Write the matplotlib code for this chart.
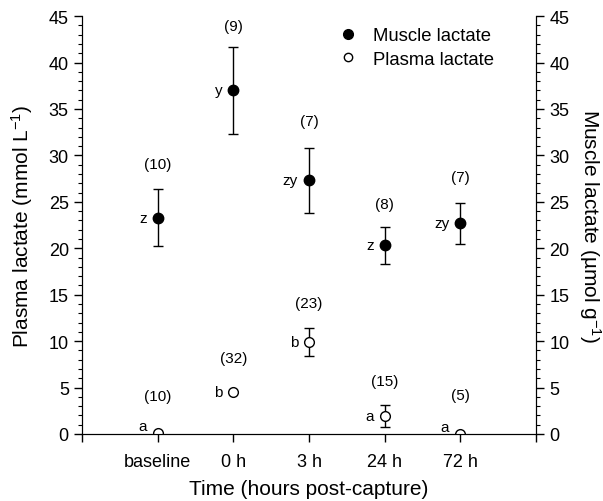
import numpy as np
import matplotlib
matplotlib.use('Agg')
import matplotlib.pyplot as plt
from matplotlib.ticker import MultipleLocator
from matplotlib.lines import Line2D

plt.rcParams['font.family'] = ['Liberation Sans', 'DejaVu Sans']
plt.rcParams['mathtext.fontset'] = 'custom'
plt.rcParams['mathtext.rm'] = 'Liberation Sans'
plt.rcParams['mathtext.it'] = 'Liberation Sans:italic'
plt.rcParams['mathtext.bf'] = 'Liberation Sans:bold'

times = ['baseline', '0 h', '3 h', '24 h', '72 h']

muscle_mean = [23.3, 37.0, 27.3, 20.3, 22.7]
muscle_err = [3.1, 4.7, 3.5, 2.0, 2.2]
muscle_n = ['(10)', '(9)', '(7)', '(8)', '(7)']
muscle_n_y = [29.1, 43.9, 33.7, 24.8, 27.7]
muscle_letters = ['z', 'y', 'zy', 'z', 'zy']

plasma_mean = [0.1, 4.5, 9.9, 1.9, 0.0]
plasma_err = [0.0, 0.0, 1.5, 1.2, 0.0]
plasma_n = ['(10)', '(32)', '(23)', '(15)', '(5)']
plasma_n_y = [4.1, 8.2, 14.1, 5.7, 4.2]
plasma_letters = ['a', 'b', 'b', 'a', 'a']

x = np.arange(1, len(times) + 1)

fig = plt.figure(figsize=(6.03, 5.02), dpi=100)
ax = fig.add_axes([0.136, 0.1335, 0.753, 0.8325])

ax.errorbar(x, muscle_mean, yerr=muscle_err, fmt='o', color='black', mfc='black',
            ms=7.5, capsize=3.5, elinewidth=1, capthick=1, zorder=3)
ax.errorbar(x, plasma_mean, yerr=[e if e > 0 else np.nan for e in plasma_err], fmt='o',
            color='black', mfc='white', ms=7, mew=1, capsize=3.5, elinewidth=1,
            capthick=1, zorder=3)

for xi, yn, n, m, lt in zip(x, muscle_n_y, muscle_n, muscle_mean, muscle_letters):
    ax.text(xi, yn, n, ha='center', va='center', fontsize=11)
    ax.annotate(lt, (xi, m), xytext=(-8, 0), textcoords='offset points',
                ha='right', va='center', fontsize=11)

for xi, yn, n, m, lt in zip(x, plasma_n_y, plasma_n, plasma_mean, plasma_letters):
    ax.text(xi, yn, n, ha='center', va='center', fontsize=11)
    if m < 1:
        ax.annotate(lt, (xi, m), xytext=(-8, 5), textcoords='offset points',
                    ha='right', va='center', fontsize=11)
    else:
        ax.annotate(lt, (xi, m), xytext=(-8, 0), textcoords='offset points',
                    ha='right', va='center', fontsize=11)

ax.set_xlim(0, 6)
ax.set_ylim(0, 45)
ax.set_xticks(range(0, 7))
ax.set_xticklabels([''] + times + [''])
ax.yaxis.set_major_locator(MultipleLocator(5))
ax.yaxis.set_minor_locator(MultipleLocator(1))
ax.tick_params(axis='both', which='major', direction='out', length=6, labelsize=13, width=1)
ax.tick_params(axis='x', pad=8)
ax.tick_params(axis='y', which='minor', direction='out', length=3, width=0.8)
ax.spines['top'].set_visible(False)
ax.set_xlabel('Time (hours post-capture)', fontsize=15, labelpad=6)
ax.set_ylabel('Plasma lactate (mmol L$^{-1}$)', fontsize=15, labelpad=10)

ax2 = ax.twinx()
ax2.set_ylim(0, 45)
ax2.yaxis.set_major_locator(MultipleLocator(5))
ax2.yaxis.set_minor_locator(MultipleLocator(1))
ax2.tick_params(axis='y', which='major', direction='out', length=6, labelsize=13, width=1)
ax2.tick_params(axis='y', which='minor', direction='out', length=3, width=0.8)
ax2.spines['top'].set_visible(False)
ax2.set_ylabel('Muscle lactate (\u00b5mol g$^{-1}$)', fontsize=15, rotation=270, labelpad=24)

handles = [Line2D([], [], ls='none', marker='o', color='black', mfc='black', ms=7),
           Line2D([], [], ls='none', marker='o', color='black', mfc='white', ms=6)]
ax.legend(handles, ['Muscle lactate', 'Plasma lactate'], loc='upper left',
          bbox_to_anchor=(0.53, 1.0), frameon=False, fontsize=13.3,
          handletextpad=0.6, handlelength=1.5, borderaxespad=0.2, labelspacing=0.35)

fig.savefig('out.png', dpi=100)
